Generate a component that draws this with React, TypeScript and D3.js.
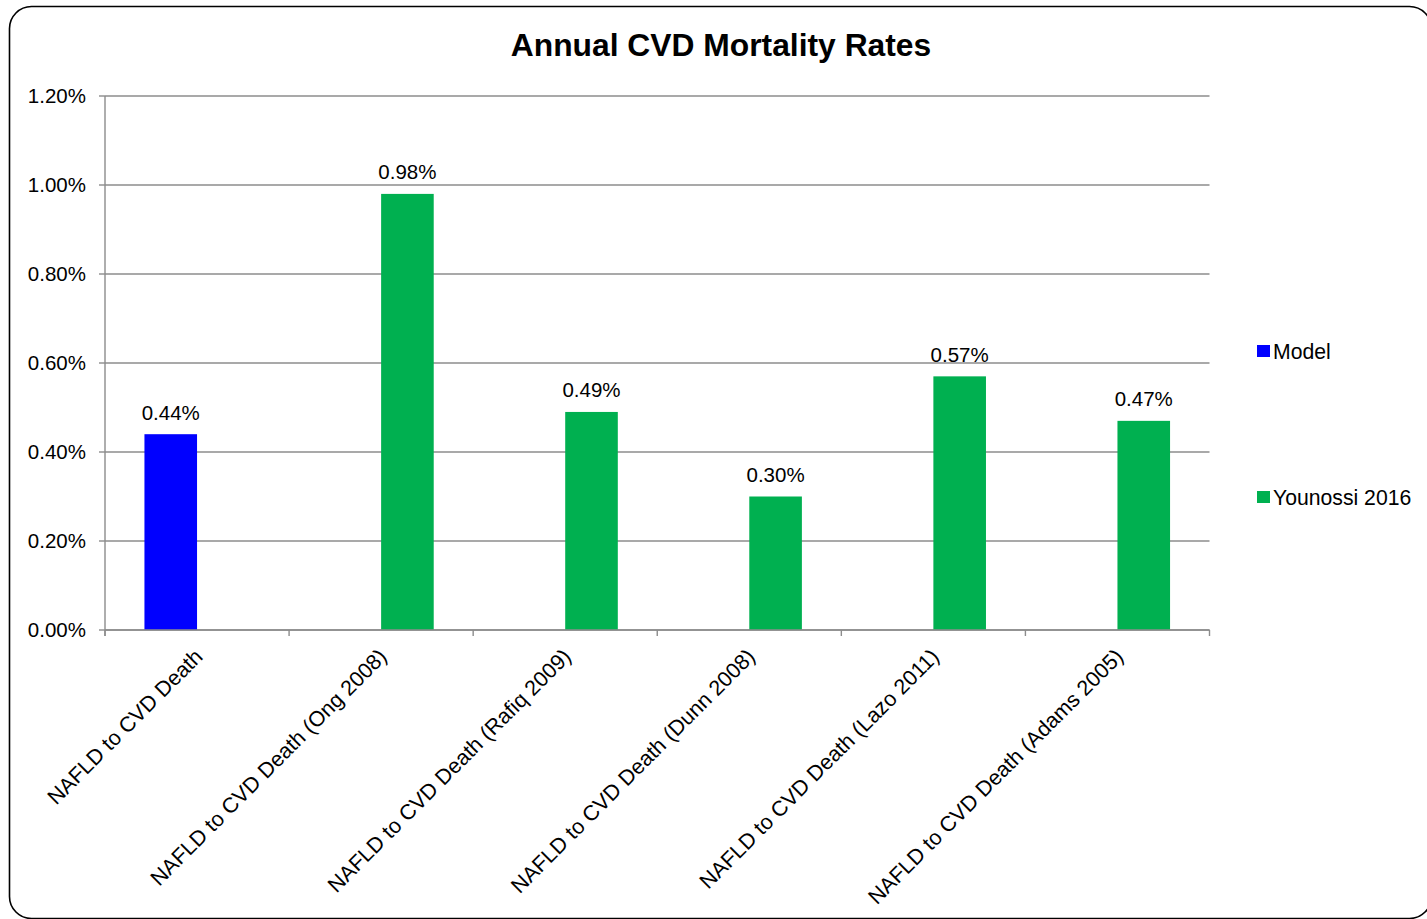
import React from "react";
import * as d3 from "d3";

// Categories along the x axis
const categories: string[] = [
  "NAFLD to CVD Death",
  "NAFLD to CVD Death (Ong 2008)",
  "NAFLD to CVD Death (Rafiq 2009)",
  "NAFLD to CVD Death (Dunn 2008)",
  "NAFLD to CVD Death (Lazo 2011)",
  "NAFLD to CVD Death (Adams 2005)",
];

// Series values, in percent (null = no bar)
const seriesNames: string[] = ["Model", "Younossi 2016"];
const modelValues: (number | null)[] = [0.44, null, null, null, null, null];
const younossiValues: (number | null)[] = [null, 0.98, 0.49, 0.3, 0.57, 0.47];
const seriesColors: string[] = ["#0000FF", "#00B050"];

// Y axis ticks, in percent
const yTicks: number[] = [0, 0.2, 0.4, 0.6, 0.8, 1.0, 1.2];

const title = "Annual CVD Mortality Rates";

const W = 1427;
const H = 919;
const plot = { left: 105, right: 1209.5, top: 96, bottom: 630 };
const FONT = "'Liberation Sans', Arial, sans-serif";

export default function App() {
  const x0 = d3
    .scaleBand<string>()
    .domain(categories)
    .range([plot.left, plot.right])
    .paddingInner(0)
    .paddingOuter(0);
  const x1 = d3
    .scaleBand<string>()
    .domain(seriesNames)
    .range([0, x0.bandwidth()])
    .paddingInner(0)
    .paddingOuter(0.75);
  const y = d3.scaleLinear().domain([0, 1.2]).range([plot.bottom, plot.top]);

  const seriesValues = [modelValues, younossiValues];
  const fmt = (v: number) => d3.format(".2f")(v) + "%";

  const bars: { key: string; x: number; y: number; w: number; h: number; color: string; v: number }[] = [];
  seriesValues.forEach((vals, si) => {
    vals.forEach((v, ci) => {
      if (v == null) return;
      const bx = (x0(categories[ci]) ?? 0) + (x1(seriesNames[si]) ?? 0);
      bars.push({
        key: `${si}-${ci}`,
        x: bx,
        y: y(v),
        w: x1.bandwidth(),
        h: y(0) - y(v),
        color: seriesColors[si],
        v,
      });
    });
  });

  // category tick positions: band edges
  const catTicks = categories.map((c) => x0(c) ?? 0).concat([plot.right]);

  const legendY = [351, 497];

  return (
    <svg
      width={W}
      height={H}
      style={{ position: "absolute", left: 0, top: 0, background: "#fff" }}
      fontFamily={FONT}
    >
      <rect x={9.5} y={6.5} width={1422} height={912} rx={22} ry={22} fill="#fff" stroke="#000" strokeWidth={1.6} />

      <text x={721} y={56} textAnchor="middle" fontSize={31.8} fontWeight="bold" fill="#000">
        {title}
      </text>

      {/* gridlines and y tick marks */}
      {yTicks.map((t) => (
        <g key={t}>
          <line x1={plot.left} x2={plot.right} y1={y(t)} y2={y(t)} stroke="#8c8c8c" strokeWidth={1.4} />
          <line x1={plot.left - 6} x2={plot.left} y1={y(t)} y2={y(t)} stroke="#8c8c8c" strokeWidth={1.4} />
          <text x={86} y={y(t)} dy="0.36em" textAnchor="end" fontSize={20.5} fill="#000">
            {fmt(t)}
          </text>
        </g>
      ))}

      {/* bars */}
      {bars.map((b) => (
        <rect key={b.key} x={b.x} y={b.y} width={b.w} height={b.h} fill={b.color} />
      ))}

      {/* axes */}
      <line x1={plot.left} x2={plot.left} y1={plot.top} y2={plot.bottom + 6} stroke="#8c8c8c" strokeWidth={1.4} />
      <line x1={plot.left} x2={plot.right} y1={plot.bottom} y2={plot.bottom} stroke="#8c8c8c" strokeWidth={1.4} />
      {catTicks.map((tx, i) => (
        <line key={i} x1={tx} x2={tx} y1={plot.bottom} y2={plot.bottom + 6} stroke="#8c8c8c" strokeWidth={1.4} />
      ))}

      {/* data labels */}
      {bars.map((b) => (
        <text key={"l" + b.key} x={b.x + b.w / 2} y={b.y - 14.5} textAnchor="middle" fontSize={20.5} fill="#000">
          {fmt(b.v)}
        </text>
      ))}

      {/* category labels */}
      {categories.map((c) => {
        const cx = (x0(c) ?? 0) + x0.bandwidth() / 2;
        return (
          <text
            key={c}
            transform={`translate(${cx + 7},${plot.bottom + 28}) rotate(-45)`}
            textAnchor="end"
            fontSize={21.5}
            fill="#000"
          >
            {c}
          </text>
        );
      })}

      {/* legend */}
      {seriesNames.map((s, i) => (
        <g key={s}>
          <rect x={1257} y={legendY[i] - 6} width={13} height={12} fill={seriesColors[i]} />
          <text x={1273} y={legendY[i]} dy="0.36em" fontSize={21.2} fill="#000">
            {s}
          </text>
        </g>
      ))}
    </svg>
  );
}
